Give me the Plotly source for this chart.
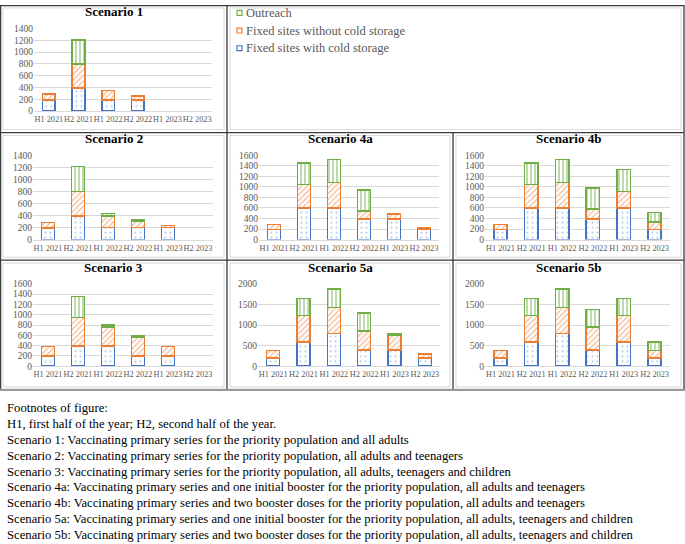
import plotly.graph_objects as go

# ---------------- data ----------------
categories = ["H1 2021", "H2 2021", "H1 2022", "H2 2022", "H1 2023", "H2 2023"]
series_names = ["Fixed sites with cold storage", "Fixed sites without cold storage", "Outreach"]

# per-segment values (stacked), None = no bar segment
s1_cold = [190, 395, 190, 190, None, None]
s1_nocold = [95, 405, 155, 65, None, None]
s1_outreach = [None, 410, None, None, None, None]

s2_cold = [195, 395, 200, 200, 200, None]
s2_nocold = [90, 405, 195, 105, 35, None]
s2_outreach = [None, 410, 35, 30, None, None]

s3_cold = [200, 395, 395, 200, 200, None]
s3_nocold = [180, 550, 365, 355, 180, None]
s3_outreach = [None, 405, 40, 35, None, None]

s4a_cold = [190, 595, 595, 390, 390, 195]
s4a_nocold = [95, 450, 485, 150, 95, 20]
s4a_outreach = [None, 410, 435, 400, None, None]

s4b_cold = [190, 595, 595, 390, 595, 195]
s4b_nocold = [95, 450, 485, 190, 320, 135]
s4b_outreach = [None, 410, 435, 400, 415, 180]

s5a_cold = [195, 595, 795, 395, 395, 195]
s5a_nocold = [190, 635, 630, 455, 360, 100]
s5a_outreach = [None, 415, 455, 435, 30, None]

s5b_cold = [195, 595, 795, 395, 595, 195]
s5b_nocold = [190, 635, 630, 555, 635, 190]
s5b_outreach = [None, 415, 455, 425, 415, 210]

titles = ["Scenario 1", "Scenario 2", "Scenario 4a", "Scenario 4b", "Scenario 3", "Scenario 5a", "Scenario 5b"]
y_max = [1400, 1400, 1600, 1600, 1600, 2000, 2000]
y_step = [200, 200, 200, 200, 200, 500, 500]

footnotes = [
    "Footnotes of figure:",
    "H1, first half of the year; H2, second half of the year.",
    "Scenario 1: Vaccinating primary series for the priority population and all adults",
    "Scenario 2: Vaccinating primary series for the priority population, all adults and teenagers",
    "Scenario 3: Vaccinating primary series for the priority population, all adults, teenagers and children",
    "Scenario 4a: Vaccinating primary series and one initial booster for the priority population, all adults and teenagers",
    "Scenario 4b: Vaccinating primary series and two booster doses for the priority population, all adults and teenagers",
    "Scenario 5a: Vaccinating primary series and one initial booster for the priority population, all adults, teenagers and children",
    "Scenario 5b: Vaccinating primary series and two booster doses for the priority population, all adults, teenagers and children",
]

panel_data = [
    (s1_cold, s1_nocold, s1_outreach),
    (s2_cold, s2_nocold, s2_outreach),
    (s4a_cold, s4a_nocold, s4a_outreach),
    (s4b_cold, s4b_nocold, s4b_outreach),
    (s3_cold, s3_nocold, s3_outreach),
    (s5a_cold, s5a_nocold, s5a_outreach),
    (s5b_cold, s5b_nocold, s5b_outreach),
]

# ---------------- layout geometry (pixels) ----------------
W, H = 685, 544
colors = ["#4472C4", "#ED7D31", "#70AD47"]
patterns = [".", "/", "|"]
pat_size = [5, 4, 4]
pat_solid = [0.15, 0.3, 0.3]
pat_opacity = [0.4, 0.55, 0.75]
FONT = "Liberation Serif, Times New Roman, serif"

# (row, col) for each panel
cells = [(0, 0), (1, 0), (1, 1), (1, 2), (2, 0), (2, 1), (2, 2)]
row_tops = [0, 130, 260]
row_bots = [130, 260, 392]
col_lefts = [0, 227, 453]
col_rights = [227, 453, 684]
# plot rectangles x0, x1, ytop, ybottom
plot_rects = [
    (34, 212, 24, 108),
    (33, 213, 153, 239),
    (259, 439, 153, 239),
    (485, 670, 153, 239),
    (33, 213, 284, 368),
    (258, 440, 284, 368),
    (485, 670, 284, 368),
]
title_y = [7, 136, 267]


def px(x):
    return x / W


def py(y):
    return 1 - y / H


fig = go.Figure()
shapes = []
annotations = []
layout_axes = {}

for i, (vals, rect, cell) in enumerate(zip(panel_data, plot_rects, cells)):
    n = "" if i == 0 else str(i + 1)
    xa, ya = "x" + n, "y" + n
    for k in range(3):
        fig.add_trace(go.Bar(
            x=categories, y=vals[k], name=series_names[k], xaxis=xa, yaxis=ya,
            showlegend=False,
            marker=dict(
                color=colors[k],
                line=dict(color=colors[k], width=1.6),
                pattern=dict(shape=patterns[k], fgcolor=colors[k], bgcolor="white",
                             size=pat_size[k], solidity=pat_solid[k],
                             fgopacity=pat_opacity[k], fillmode="replace"),
            ),
        ))
    x0, x1, yt, yb = rect
    tick_font = dict(family=FONT, size=9.5, color="#595959")
    layout_axes["xaxis" + n] = dict(
        domain=[px(x0), px(x1)], anchor=ya, type="category",
        showline=True, linecolor="#D9D9D9", linewidth=1, ticks="", ticklen=0,
        tickangle=0, tickfont=dict(family=FONT, size=8.3, color="#595959"),
        showgrid=False, fixedrange=True,
    )
    layout_axes["yaxis" + n] = dict(
        domain=[py(yb), py(yt)], anchor=xa, range=[0, y_max[i]], dtick=y_step[i],
        showgrid=True, gridcolor="#D9D9D9", gridwidth=1, zeroline=False,
        showline=False, tickfont=tick_font, ticks="", fixedrange=True,
    )
    r, c = cell
    cl, cr, ct, cb = col_lefts[c], col_rights[c], row_tops[r], row_bots[r]
    # chart-area light box
    shapes.append(dict(type="rect", xref="paper", yref="paper",
                       x0=px(cl + 3), x1=px(cr - 3), y0=py(cb - 3), y1=py(ct + 3),
                       line=dict(color="#D9D9D9", width=1), layer="below"))
    annotations.append(dict(text="<b>%s</b>" % titles[i], xref="paper", yref="paper",
                            x=px((cl + cr) / 2), y=py(title_y[r]), xanchor="center", yanchor="middle",
                            showarrow=False, font=dict(family=FONT, size=13, color="black")))

# legend cell (top-right)
shapes.append(dict(type="rect", xref="paper", yref="paper",
                   x0=px(230), x1=px(681), y0=py(127), y1=py(3),
                   line=dict(color="#D9D9D9", width=1), layer="below"))
legend_order = [2, 1, 0]
legend_y = [8, 26, 44]
for j, k in enumerate(legend_order):
    yc = legend_y[j]
    shapes.append(dict(type="rect", xref="paper", yref="paper",
                       x0=px(237), x1=px(242), y0=py(yc + 2.5), y1=py(yc - 2.5),
                       line=dict(color=colors[k], width=1.2),
                       fillcolor="rgba(255,255,255,1)"))
    annotations.append(dict(text=series_names[k], xref="paper", yref="paper",
                            x=px(244), y=py(yc), xanchor="left", yanchor="middle",
                            showarrow=False, font=dict(family=FONT, size=12.5, color="#595959")))

# table borders
dark = dict(color="#3a3a3a", width=1.3)
lines = [
    (0, 0.6, 684, 0.6), (0, 130, 684, 130), (0, 260, 684, 260),
    (0.6, 0, 0.6, 392), (227, 0, 227, 392), (453, 130, 453, 392), (684, 0, 684, 392),
]
for (xa0, ya0, xa1, ya1) in lines:
    shapes.append(dict(type="line", xref="paper", yref="paper",
                       x0=px(xa0), y0=py(ya0), x1=px(xa1), y1=py(ya1), line=dark))
shapes.append(dict(type="line", xref="paper", yref="paper",
                   x0=0, y0=py(392), x1=1, y1=py(392), line=dict(color="#9a9a9a", width=2.2)))

# footnotes
for j, t in enumerate(footnotes):
    annotations.append(dict(text=t, xref="paper", yref="paper",
                            x=px(5), y=py(410.5 + j * 16.2), xanchor="left", yanchor="middle",
                            showarrow=False, font=dict(family=FONT, size=12.7, color="black")))

fig.update_layout(
    width=W, height=H, margin=dict(l=0, r=0, t=0, b=0),
    paper_bgcolor="white", plot_bgcolor="white",
    barmode="stack", bargap=0.57,
    showlegend=False,
    shapes=shapes, annotations=annotations,
    **layout_axes,
)

fig.write_html(
    "out.html",
    config={"displayModeBar": False, "staticPlot": True},
    post_script=(
        "document.documentElement.style.margin='0px';"
        "document.documentElement.style.overflow='hidden';"
        "document.body.style.margin='0px';"
        "document.body.style.overflow='hidden';"
    ),
)
